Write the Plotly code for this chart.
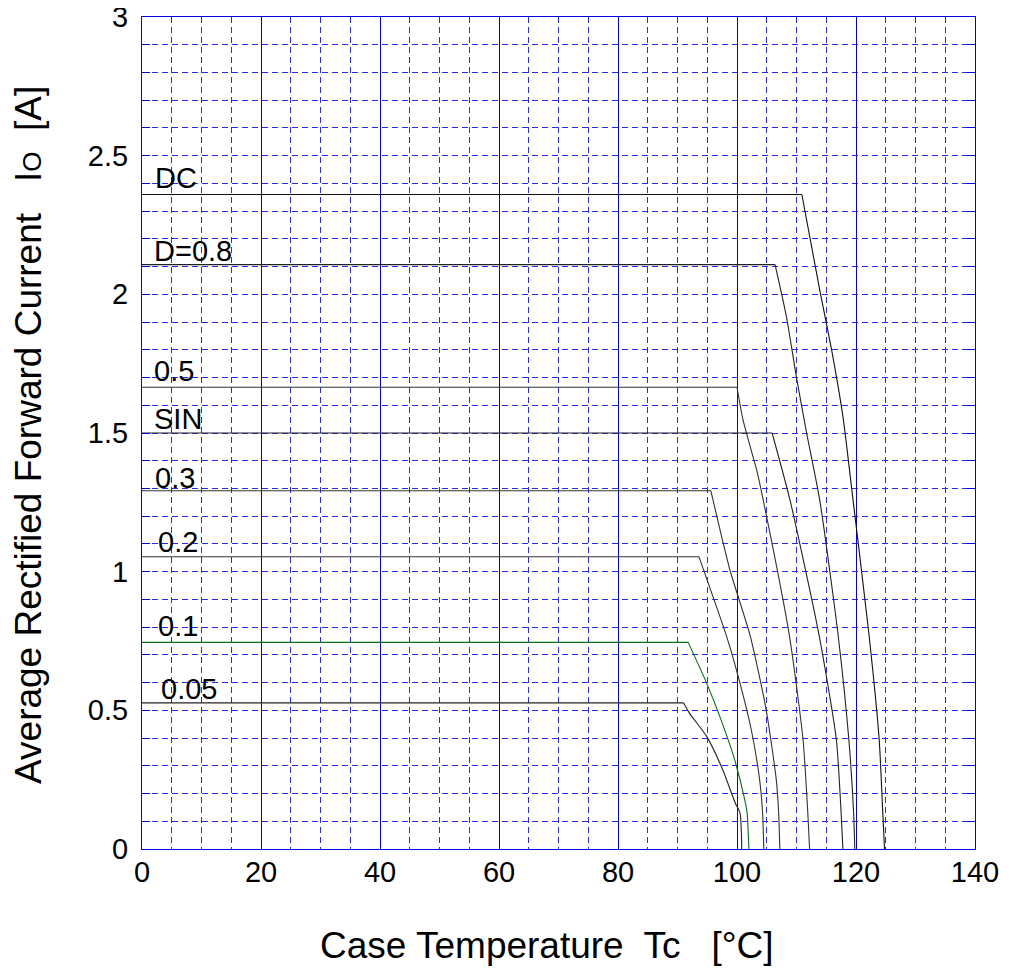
import plotly.graph_objects as go

# ---- data (Tc [°C], Io [A]) ----
x_dc = [0, 110.9, 113.9, 115.9, 117.8, 119.5, 122.2, 123.9, 124.5, 124.8]
y_dc = [2.36, 2.36, 2.016, 1.80, 1.56, 1.259, 0.77, 0.394, 0.13, 0]

x_d08 = [0, 106.4, 108.3, 110.0, 111.7, 113.9, 117.0, 118.8, 119.6, 119.8]
y_d08 = [2.107, 2.107, 1.92, 1.70, 1.50, 1.259, 0.77, 0.394, 0.13, 0]

x_d05 = [0, 100.0, 101.0, 102.1, 103.3, 104.4, 108.8, 111.1, 111.9, 112.2]
y_d05 = [1.665, 1.665, 1.548, 1.46, 1.367, 1.259, 0.77, 0.394, 0.13, 0]

x_sin = [0, 105.9, 108.9, 113.8, 116.7, 117.5, 117.8]
y_sin = [1.5, 1.5, 1.259, 0.77, 0.394, 0.13, 0]

x_d03 = [0, 95.6, 98.8, 102.2, 104.9, 106.6, 107.0, 107.2]
y_d03 = [1.292, 1.292, 1.007, 0.77, 0.502, 0.25, 0.13, 0]

x_d02 = [0, 93.6, 98.2, 99.9, 102.4, 103.8, 104.3, 104.5]
y_d02 = [1.054, 1.054, 0.77, 0.646, 0.43, 0.25, 0.13, 0]

x_d01 = [0, 91.8, 94.9, 97.1, 99.6, 101.3, 101.7, 102.0]
y_d01 = [0.745, 0.745, 0.598, 0.478, 0.322, 0.178, 0.13, 0]

x_d005 = [0, 91.0, 92.0, 94.9, 97.6, 99.7, 100.5, 100.8]
y_d005 = [0.527, 0.527, 0.49, 0.406, 0.286, 0.166, 0.13, 0]

labels = ["DC", "D=0.8", "0.5", "SIN", "0.3", "0.2", "0.1", "0.05"]
label_x = [1.8, 1.6, 1.7, 1.6, 1.8, 2.3, 2.3, 2.9]
label_y = [2.42, 2.155, 1.724, 1.551, 1.338, 1.108, 0.803, 0.578]

x_ticks = [0, 20, 40, 60, 80, 100, 120, 140]
y_ticks = [0, 0.5, 1, 1.5, 2, 2.5, 3]
y_ticktext = ["0", "0.5", "1", "1.5", "2", "2.5", "3"]

series = [
    (x_dc, y_dc, "#111111"),
    (x_d08, y_d08, "#222222"),
    (x_d05, y_d05, "#333333"),
    (x_sin, y_sin, "#222222"),
    (x_d03, y_d03, "#333333"),
    (x_d02, y_d02, "#333333"),
    (x_d01, y_d01, "#0b6a1a"),
    (x_d005, y_d005, "#222222"),
]

FONT = "Liberation Sans, Arial, sans-serif"
BLUE = "#0000e0"
DBLUE = "#2a2ae6"

fig = go.Figure()
for (xs, ys, col), name in zip(series, labels):
    # flat part (straight) and derating part (smooth curve)
    fig.add_trace(go.Scatter(x=xs[:2], y=ys[:2], mode="lines", name=name,
                             line=dict(color=col, width=1.1),
                             showlegend=False, hoverinfo="skip"))
    fig.add_trace(go.Scatter(x=xs[1:], y=ys[1:], mode="lines", name=name,
                             line=dict(color=col, width=1.1, shape="spline",
                                       smoothing=0.6),
                             showlegend=False, hoverinfo="skip"))

for t, lx, ly in zip(labels, label_x, label_y):
    fig.add_annotation(x=lx, y=ly, text=t, showarrow=False,
                       xanchor="left", yanchor="middle",
                       font=dict(family=FONT, size=29, color="#000000"))

# axis titles
fig.add_annotation(xref="paper", yref="paper", x=0.486, y=-0.1155,
                   text="Case Temperature  Tc   [°C]", showarrow=False,
                   xanchor="center", yanchor="middle",
                   font=dict(family=FONT, size=37, color="#000000"))
fig.add_annotation(xref="paper", yref="paper", x=-0.137, y=0.4975,
                   text="Average Rectified Forward Current   I<span style='font-size:26px'>O</span>  [A]",
                   showarrow=False, textangle=-90,
                   xanchor="center", yanchor="middle",
                   font=dict(family=FONT, size=37, color="#000000"))

fig.update_xaxes(range=[0, 140], tickvals=x_ticks, automargin=False,
                 ticklabelstandoff=-3, ticklabeloverflow="allow",
                 showgrid=True, gridcolor=BLUE, gridwidth=1,
                 showline=True, linecolor=BLUE, linewidth=1, mirror=True,
                 ticks="", zeroline=False,
                 tickfont=dict(family=FONT, size=29, color="#000000"),
                 minor=dict(dtick=5, showgrid=True, gridcolor=DBLUE,
                            gridwidth=1, griddash="6px,4px"))
fig.update_yaxes(range=[0, 3], tickvals=y_ticks, ticktext=y_ticktext,
                 automargin=False, ticklabelstandoff=7,
                 ticklabeloverflow="allow",
                 showgrid=True, gridcolor=DBLUE, gridwidth=1, griddash="6px,4px",
                 showline=True, linecolor=BLUE, linewidth=1, mirror="allticks",
                 ticks="inside", ticklen=8, tickcolor=BLUE, tickwidth=1,
                 zeroline=False,
                 tickfont=dict(family=FONT, size=29, color="#000000"),
                 minor=dict(dtick=0.1, showgrid=True, gridcolor=DBLUE,
                            gridwidth=1, griddash="6px,4px",
                            ticks="inside", ticklen=8, tickcolor=BLUE))

# the page body adds an 8px offset, so the figure is sized to fit the window
fig.update_layout(template="none", width=1002, height=965,
                  margin=dict(l=134, r=35, t=9, b=124),
                  paper_bgcolor="white", plot_bgcolor="white",
                  showlegend=False)

fig.write_html("out.html")
